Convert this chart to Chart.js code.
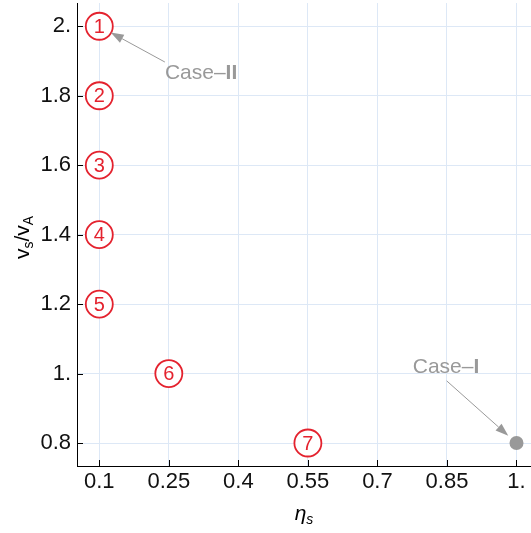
<!DOCTYPE html>
<html>
<head>
<meta charset="utf-8">
<script src="https://cdn.jsdelivr.net/npm/chart.js@4/dist/chart.umd.min.js"></script>
<style>
html,body{margin:0;padding:0;background:#fff;}
#wrap{width:531px;height:533px;}
</style>
</head>
<body>
<div id="wrap"><canvas id="c" width="531" height="533"></canvas></div>
<script>
// ---- data ----
const caseNumbers = ['1','2','3','4','5','6','7'];
const etaS = [0.1, 0.1, 0.1, 0.1, 0.1, 0.25, 0.55];
const vRatio = [2.0, 1.8, 1.6, 1.4, 1.2, 1.0, 0.8];
const caseIEta = [1.0];
const caseIRatio = [0.8];
const xTickValues = [0.1, 0.25, 0.4, 0.55, 0.7, 0.85, 1.0];
const yTickValues = [0.8, 1.0, 1.2, 1.4, 1.6, 1.8, 2.0];

const FONT = '"Liberation Sans", Arial, sans-serif';
const RED = '#e4222e';
const GRAY = '#999999';
const GRID = '#dde8f6';

function fmt(v){
  const r = Math.round(v*100)/100;
  return Number.isInteger(r) ? r + '.' : String(r);
}

// annotations (data-space anchors)
const annotations = [
  {parts:[['Case\u2013','normal'],['II','bold']], textX:0.2415, textY:1.865, align:'left',
   fromX:0.2415, fromY:1.897, toX:etaS[0], toY:vRatio[0], gap:13},
  {parts:[['Case\u2013','normal'],['I','bold']], textX:0.848, textY:1.019, align:'center',
   fromX:0.8494, fromY:0.979, toX:caseIEta[0], toY:caseIRatio[0], gap:11}
];

const decoPlugin = {
  id:'deco',
  afterDraw(chart){
    const ctx = chart.ctx, xs = chart.scales.x, ys = chart.scales.y;
    const area = chart.chartArea;
    ctx.save();
    // inward tick marks
    ctx.strokeStyle = '#000'; ctx.lineWidth = 1;
    ctx.beginPath();
    yTickValues.forEach(v=>{
      const py = Math.round(ys.getPixelForValue(v))+0.5;
      ctx.moveTo(area.left, py); ctx.lineTo(area.left+6, py);
    });
    xTickValues.forEach(v=>{
      const px = Math.round(xs.getPixelForValue(v))+0.5;
      ctx.moveTo(px, area.bottom); ctx.lineTo(px, area.bottom-6);
    });
    ctx.stroke();

    // circled numbers
    const meta = chart.getDatasetMeta(0);
    ctx.fillStyle = RED;
    ctx.font = '20px ' + FONT;
    ctx.textAlign = 'center'; ctx.textBaseline = 'middle';
    meta.data.forEach((el,i)=>{
      ctx.fillText(caseNumbers[i], el.x, el.y+1);
    });

    // annotations
    annotations.forEach(a=>{
      const fx = xs.getPixelForValue(a.fromX), fy = ys.getPixelForValue(a.fromY);
      const cx = xs.getPixelForValue(a.toX), cy = ys.getPixelForValue(a.toY);
      const dx = cx-fx, dy = cy-fy, d = Math.hypot(dx,dy);
      const ux = dx/d, uy = dy/d;
      const tx = cx - ux*a.gap, ty = cy - uy*a.gap;
      const hl = 13, hw = 4.5;
      const bx = tx - ux*hl, by = ty - uy*hl;
      ctx.strokeStyle = GRAY; ctx.fillStyle = GRAY; ctx.lineWidth = 1;
      ctx.beginPath(); ctx.moveTo(fx,fy); ctx.lineTo(bx,by); ctx.stroke();
      ctx.beginPath();
      ctx.moveTo(tx,ty);
      ctx.lineTo(bx - uy*hw, by + ux*hw);
      ctx.lineTo(bx + uy*hw, by - ux*hw);
      ctx.closePath(); ctx.fill();
      // text
      let total = 0;
      const widths = a.parts.map(p=>{ctx.font = p[1]+' 21px '+FONT; const w = ctx.measureText(p[0]).width; total += w; return w;});
      let x = xs.getPixelForValue(a.textX);
      if (a.align==='center') x -= total/2;
      const y = ys.getPixelForValue(a.textY);
      ctx.textAlign = 'left'; ctx.textBaseline = 'middle';
      a.parts.forEach((p,i)=>{ ctx.font = p[1]+' 21px '+FONT; ctx.fillText(p[0], x, y); x += widths[i]; });
    });

    // axis titles
    ctx.fillStyle = '#000';
    ctx.textBaseline = 'alphabetic'; ctx.textAlign='left';
    // x title: eta_s
    {
      const big = 'italic 21px ' + FONT, small = 'italic 14px ' + FONT;
      ctx.font = big; const w1 = ctx.measureText('\u03b7').width;
      ctx.font = small; const w2 = ctx.measureText('s').width;
      let x = (area.left+area.right)/2 - (w1+w2)/2;
      const y = 520;
      ctx.font = big; ctx.fillText('\u03b7', x, y); x += w1;
      ctx.font = small; ctx.fillText('s', x, y+4);
    }
    // y title: v_s / v_A (rotated)
    {
      const big = '21px ' + FONT, small = '14px ' + FONT;
      const parts = [['v',big,0],['s',small,4],['/',big,0],['v',big,0],['A',small,4]];
      let total = 0;
      const ws = parts.map(p=>{ctx.font=p[1]; const w = ctx.measureText(p[0]).width; total+=w; return w;});
      ctx.translate(29, (area.top+area.bottom)/2 + 3);
      ctx.rotate(-Math.PI/2);
      let x = -total/2;
      parts.forEach((p,i)=>{ ctx.font=p[1]; ctx.fillText(p[0], x, p[2]); x+=ws[i]; });
    }
    ctx.restore();
  }
};

new Chart(document.getElementById('c'), {
  type:'scatter',
  data:{
    datasets:[
      {data: etaS.map((x,i)=>({x, y:vRatio[i]})), pointRadius:13.5, pointHoverRadius:13.5,
       borderColor:RED, backgroundColor:'#ffffff', borderWidth:1.8, pointBorderWidth:1.8, clip:false},
      {data: caseIEta.map((x,i)=>({x, y:caseIRatio[i]})), pointRadius:7, pointHoverRadius:7,
       borderColor:GRAY, backgroundColor:GRAY, borderWidth:0, clip:false}
    ]
  },
  options:{
    responsive:false, animation:false, devicePixelRatio:1,
    layout:{autoPadding:false, padding:{top:3, right:0, left:0, bottom:0}},
    plugins:{legend:{display:false}, tooltip:{enabled:false}},
    scales:{
      x:{type:'linear', min:0.0519, max:1.0313,
        afterBuildTicks(s){ s.ticks = xTickValues.map(v=>({value:v})); },
        afterFit(s){ s.height = 67; s.paddingLeft = 0; s.paddingRight = 0; },
        grid:{color:GRID, drawTicks:false, lineWidth:1},
        border:{color:'#000', width:1},
        ticks:{padding:3, color:'#111', font:{family:FONT, size:22}, callback:(v)=>fmt(v), maxRotation:0, autoSkip:false}
      },
      y:{type:'linear', min:0.7338, max:2.067,
        afterBuildTicks(s){ s.ticks = yTickValues.map(v=>({value:v})); },
        afterFit(s){ s.width = 77; s.paddingTop = 0; s.paddingBottom = 0; },
        grid:{color:GRID, drawTicks:false, lineWidth:1},
        border:{color:'#000', width:1},
        ticks:{padding:6, color:'#111', font:{family:FONT, size:22}, callback:(v)=>fmt(v), autoSkip:false}
      }
    }
  },
  plugins:[decoPlugin]
});
</script>
</body>
</html>
